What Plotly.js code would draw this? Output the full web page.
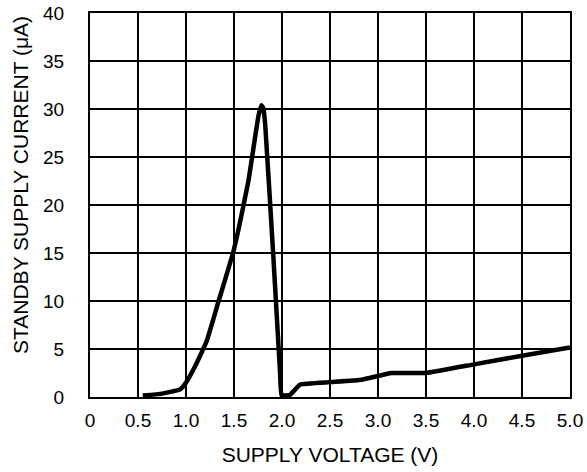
<!DOCTYPE html>
<html>
<head>
<meta charset="utf-8">
<script src="https://cdn.plot.ly/plotly-3.0.1.min.js"></script>
<style>html,body{margin:0;padding:0;background:#fff;}#chart{width:587px;height:472px;}</style>
</head>
<body>
<div id="chart"></div>
<script>
const supplyVoltage = [0.55, 0.75, 0.94, 1.0, 1.1, 1.215, 1.34, 1.49, 1.55, 1.65, 1.755, 1.785, 1.805, 1.825, 1.91, 1.98, 1.995, 2.08, 2.19, 2.5, 2.83, 3.14, 3.5, 4.0, 4.5, 5.0];
const standbyCurrent = [0.15, 0.35, 0.8, 1.5, 3.3, 5.8, 10.0, 15.0, 17.6, 22.5, 29.3, 30.4, 30.1, 28.4, 14.6, 2.5, 0.2, 0.2, 1.3, 1.55, 1.8, 2.5, 2.5, 3.4, 4.3, 5.15];
const xTicks = [0, 0.5, 1.0, 1.5, 2.0, 2.5, 3.0, 3.5, 4.0, 4.5, 5.0];
const xTickLabels = ["0", "0.5", "1.0", "1.5", "2.0", "2.5", "3.0", "3.5", "4.0", "4.5", "5.0"];
const yTicks = [0, 5, 10, 15, 20, 25, 30, 35, 40];
const xTitle = "SUPPLY VOLTAGE (V)";
const yTitle = "STANDBY SUPPLY CURRENT (μA)";

const font = {family: "Liberation Sans, Arial, Helvetica, sans-serif", color: "#000"};

Plotly.newPlot("chart", [{
  x: supplyVoltage,
  y: standbyCurrent,
  mode: "lines",
  line: {color: "#000", width: 4.5, shape: "spline", smoothing: 0.3},
  hoverinfo: "skip"
}], {
  width: 587, height: 472,
  margin: {l: 90, r: 17, t: 13, b: 75},
  paper_bgcolor: "#fff", plot_bgcolor: "#fff",
  showlegend: false,
  font: Object.assign({size: 19}, font),
  xaxis: {
    range: [0, 5], tickvals: xTicks, ticktext: xTickLabels,
    showgrid: true, gridcolor: "#000", gridwidth: 1.4,
    showline: true, linecolor: "#000", linewidth: 2, mirror: true,
    zeroline: false, ticks: "", ticklabelstandoff: 5,
    tickfont: Object.assign({size: 19}, font),
    title: {text: xTitle, font: Object.assign({size: 21}, font), standoff: 18}
  },
  yaxis: {
    range: [0, 40], tickvals: yTicks,
    showgrid: true, gridcolor: "#000", gridwidth: 1.4,
    showline: true, linecolor: "#000", linewidth: 2, mirror: true,
    zeroline: false, ticks: "", ticklabelstandoff: 20,
    tickfont: Object.assign({size: 19}, font)
  },
  annotations: [{
    text: yTitle, textangle: -90, showarrow: false,
    xref: "paper", yref: "paper", x: -0.1458, y: 0.552,
    xanchor: "center", yanchor: "middle",
    font: Object.assign({size: 21}, font)
  }]
}, {displayModeBar: false, staticPlot: true});
</script>
</body>
</html>
